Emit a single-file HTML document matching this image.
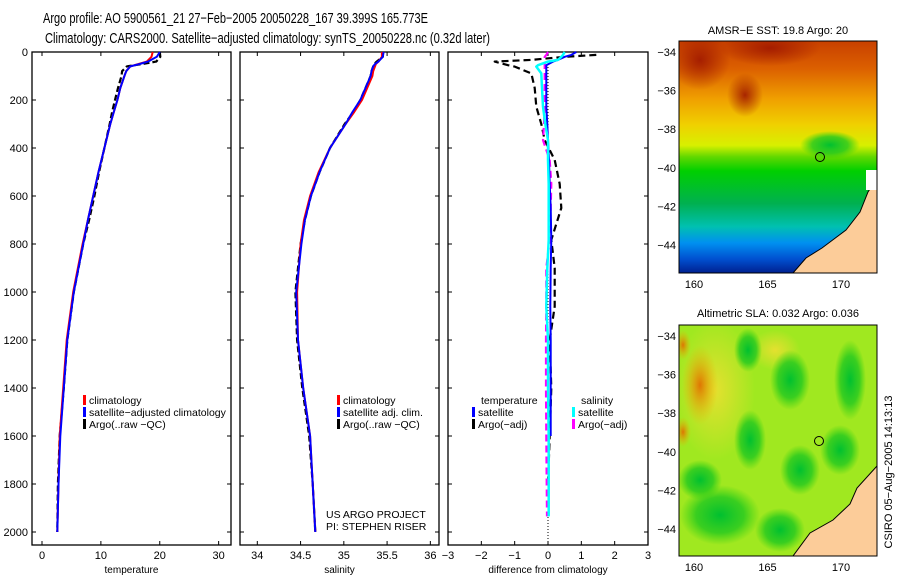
<!DOCTYPE html>
<html><head><meta charset="utf-8"><style>
html,body{margin:0;padding:0;background:#fff;width:900px;height:580px;overflow:hidden}
svg{display:block;font-family:"Liberation Sans",sans-serif}
</style></head><body>
<svg id="fig" width="900" height="580" viewBox="0 0 900 580">
<text x="43" y="23" font-size="14.5" textLength="385" lengthAdjust="spacingAndGlyphs">Argo profile: AO 5900561_21 27−Feb−2005 20050228_167 39.399S 165.773E</text>
<text x="45" y="43" font-size="14.5" textLength="445" lengthAdjust="spacingAndGlyphs">Climatology: CARS2000. Satellite−adjusted climatology: synTS_20050228.nc (0.32d later)</text>
<g id="charts"></g>
<defs>
<linearGradient id="sstg" x1="0" y1="0" x2="0" y2="1">
<stop offset="0" stop-color="#c84000"/><stop offset="0.12" stop-color="#dc6000"/><stop offset="0.25" stop-color="#f0a000"/>
<stop offset="0.36" stop-color="#f0d000"/><stop offset="0.45" stop-color="#d8f000"/><stop offset="0.5" stop-color="#60d800"/>
<stop offset="0.56" stop-color="#00d000"/><stop offset="0.7" stop-color="#00b050"/><stop offset="0.8" stop-color="#00c0b0"/>
<stop offset="0.87" stop-color="#0090f0"/><stop offset="0.94" stop-color="#0050d0"/><stop offset="1" stop-color="#002090"/>
</linearGradient>
<radialGradient id="blobR"><stop offset="0" stop-color="#a01800" stop-opacity="0.9"/><stop offset="1" stop-color="#a01800" stop-opacity="0"/></radialGradient>
<radialGradient id="blobG"><stop offset="0" stop-color="#00c030"/><stop offset="0.6" stop-color="#20c820" stop-opacity="0.8"/><stop offset="1" stop-color="#30d010" stop-opacity="0"/></radialGradient>
<radialGradient id="blobO"><stop offset="0" stop-color="#e07000" stop-opacity="0.95"/><stop offset="1" stop-color="#f0b000" stop-opacity="0"/></radialGradient>
<radialGradient id="blobY"><stop offset="0" stop-color="#e8e030" stop-opacity="0.95"/><stop offset="1" stop-color="#e8e030" stop-opacity="0"/></radialGradient>
<clipPath id="c1"><rect x="679" y="41" width="198" height="232"/></clipPath>
<clipPath id="c2"><rect x="679" y="325" width="198" height="231"/></clipPath>
</defs>
<g>
<text x="778" y="34" font-size="11" text-anchor="middle">AMSR−E SST: 19.8 Argo: 20</text>
<g clip-path="url(#c1)">
<rect x="679" y="41" width="198" height="232" fill="url(#sstg)"/>
<ellipse cx="700" cy="60" rx="30" ry="30" fill="url(#blobR)"/>
<ellipse cx="770" cy="48" rx="50" ry="18" fill="url(#blobR)"/>
<ellipse cx="745" cy="95" rx="18" ry="22" fill="url(#blobR)"/>
<ellipse cx="830" cy="145" rx="30" ry="14" fill="url(#blobG)"/>
<polygon points="877,178 868,192 860,212 846,230 822,248 806,258 793,273 877,273" fill="#fccc99" stroke="#000" stroke-width="1"/>
<rect x="866" y="170" width="11" height="20" fill="#fff"/>
<circle cx="820" cy="157" r="4.5" fill="none" stroke="#000"/>
</g>
<rect x="679" y="41" width="198" height="232" fill="none" stroke="#000"/>
</g>
<g>
<text x="778" y="317" font-size="11" text-anchor="middle">Altimetric SLA: 0.032 Argo: 0.036</text>
<g clip-path="url(#c2)">
<rect x="679" y="325" width="198" height="231" fill="#a0e820"/>
<ellipse cx="715" cy="390" rx="40" ry="70" fill="url(#blobY)"/>
<ellipse cx="775" cy="350" rx="25" ry="20" fill="url(#blobY)"/>
<ellipse cx="748" cy="350" rx="14" ry="22" fill="url(#blobG)"/>
<ellipse cx="790" cy="380" rx="20" ry="30" fill="url(#blobG)"/>
<ellipse cx="850" cy="380" rx="16" ry="40" fill="url(#blobG)"/>
<ellipse cx="700" cy="480" rx="22" ry="20" fill="url(#blobG)"/>
<ellipse cx="750" cy="440" rx="16" ry="30" fill="url(#blobG)"/>
<ellipse cx="800" cy="470" rx="20" ry="25" fill="url(#blobG)"/>
<ellipse cx="720" cy="515" rx="40" ry="30" fill="url(#blobG)"/>
<ellipse cx="780" cy="530" rx="25" ry="22" fill="url(#blobG)"/>
<ellipse cx="840" cy="450" rx="20" ry="25" fill="url(#blobG)"/>
<ellipse cx="700" cy="385" rx="18" ry="40" fill="url(#blobO)"/>
<ellipse cx="683" cy="345" rx="8" ry="15" fill="url(#blobO)"/>
<ellipse cx="683" cy="432" rx="8" ry="15" fill="url(#blobO)"/>
<polygon points="877,466 857,488 850,504 833,520 810,533 793,556 877,556" fill="#fccc99" stroke="#000" stroke-width="1"/>
<circle cx="819" cy="441" r="4.5" fill="none" stroke="#000"/>
</g>
<rect x="679" y="325" width="198" height="231" fill="none" stroke="#000"/>
</g>
<text transform="translate(892,472) rotate(-90)" font-size="11" text-anchor="middle">CSIRO 05−Aug−2005 14:13:13</text>
</svg>
<script>
// depth levels (m)
const depthClim = [0,20,40,50,60,80,100,150,200,250,300,400,500,600,700,800,1000,1200,1400,1600,1800,2000];
const tempClim  = [18.8,18.6,17.8,16.4,15.0,14.3,14.0,13.3,12.8,12.2,11.6,10.6,9.6,8.7,7.8,6.9,5.3,4.2,3.6,3.0,2.8,2.6];
const tempSat   = [20.0,19.5,18.0,16.6,15.0,14.3,14.0,13.3,12.8,12.2,11.6,10.6,9.6,8.7,7.8,7.0,5.4,4.3,3.7,3.1,2.8,2.6];
const tempArgo  = [20.0,20.1,19.4,17.0,14.4,13.6,13.5,12.9,12.4,11.9,11.5,10.6,9.7,8.9,8.0,7.0,5.4,4.3,3.7,3.0,2.7,2.6];
const salClim   = [35.44,35.44,35.40,35.37,35.36,35.34,35.33,35.27,35.21,35.12,35.02,34.84,34.71,34.61,34.54,34.50,34.46,34.47,34.53,34.61,34.64,34.67];
const salSat    = [35.46,35.45,35.40,35.36,35.34,35.32,35.31,35.25,35.19,35.10,35.02,34.84,34.72,34.62,34.55,34.51,34.45,34.47,34.53,34.61,34.64,34.67];
const salArgo   = [35.45,35.45,35.38,35.35,35.34,35.32,35.31,35.25,35.19,35.11,35.01,34.84,34.72,34.62,34.55,34.50,34.44,34.46,34.52,34.60,34.64,34.67];
// differences
const diffDepth   = [0,12,20,33,40,55,61,89,150,228,300,367,450,550,650,783,900,1060,1200,1400,1600,1800,1935];
const diffTSat    = [0.85,0.7,0.5,0.3,0.15,-0.05,-0.05,-0.05,-0.05,-0.05,-0.02,0.0,0.03,0.05,0.08,0.1,0.08,0.07,0.08,0.08,0.08,null,null];
const diffTArgo   = [null,1.45,0.5,-0.5,-1.6,-1.2,-1.0,-0.5,-0.4,-0.35,-0.2,-0.1,0.2,0.35,0.4,0.1,0.2,0.2,0.05,0.1,0.05,0.0,null];
const diffSSat    = [0.5,0.45,0.4,0.3,0.0,-0.3,-0.35,-0.2,-0.18,-0.15,-0.08,0.0,0.0,0.02,0.02,0.02,-0.02,-0.05,0.0,0.0,0.02,0.02,0.02];
const diffSArgo   = [0.0,-0.05,-0.1,-0.1,-0.1,-0.1,-0.1,-0.1,-0.1,-0.1,-0.12,-0.15,0.05,0.1,0.08,0.05,-0.05,-0.05,-0.06,-0.06,-0.05,-0.04,-0.03];
const depthTicks = [0,200,400,600,800,1000,1200,1400,1600,1800,2000];
const tempTicks = [0,10,20,30];
const salTicks = [34,34.5,35,35.5,36];
const salTickLabels = ["34","34.5","35","35.5","36"];
const diffTicks = [-3,-2,-1,0,1,2,3];
const sstLatTicks = [-34,-36,-38,-40,-42,-44];
const lonTicks = [160,165,170];

const NS='http://www.w3.org/2000/svg';
const g=document.getElementById('charts');
function el(tag,attrs,parent){const e=document.createElementNS(NS,tag);for(const k in attrs)e.setAttribute(k,attrs[k]);(parent||g).appendChild(e);return e;}
function txt(x,y,s,size,anchor,parent){const t=el('text',{x:x,y:y,'font-size':size,'text-anchor':anchor||'start'},parent);t.textContent=s;return t;}
const yTop=52,yBot=545;
const yD=d=>52+d*0.24;

function panel(name,x0,x1,xmin,xmax,ticks,labels,xlabel){
  const p=el('g',{});
  
  
  const xs=v=>x0+(v-xmin)/(xmax-xmin)*(x1-x0);
  el('rect',{x:x0,y:yTop,width:x1-x0,height:yBot-yTop,fill:'none',stroke:'#000','stroke-width':1.3},p);
  ticks.forEach((t,i)=>{const x=xs(t);
    el('line',{x1:x,x2:x,y1:yBot,y2:yBot-4,stroke:'#000'},p);
    el('line',{x1:x,x2:x,y1:yTop,y2:yTop+4,stroke:'#000'},p);
    const lb=txt(x,559,labels[i],11,'middle',p);
    
    
  });
  depthTicks.forEach(d=>{const y=yD(d);
    el('line',{x1:x0,x2:x0+4,y1:y,y2:y,stroke:'#000'},p);
    el('line',{x1:x1,x2:x1-4,y1:y,y2:y,stroke:'#000'},p);
  });
  const xl=txt((x0+x1)/2,573,xlabel,10,'middle',p);
  
  
  return {p,xs};
}
function series(p,xs,depths,vals,color,dash,name,w){
  let d='',pen=false;
  vals.forEach((v,i)=>{if(v===null){pen=false;return;}d+=(pen?'L':'M')+xs(v).toFixed(1)+','+yD(depths[i]).toFixed(1);pen=true;});
  const path=el('path',{d:d,fill:'none',stroke:color,'stroke-width':w||2,'stroke-dasharray':dash||'none','stroke-linejoin':'round'},p);
  
  
}
function legend(p,x,y,items){
  items.forEach((it,i)=>{
    const r=el('rect',{x:x,y:y+i*12-9,width:3,height:10,fill:it[0]},p);
    
    
    const t=txt(x+6,y+i*12,it[1],10.5,'start',p);
    
    
  });
}
depthTicks.forEach(d=>{const t=txt(28,yD(d)+4,String(d),11,'end');
  
  });

let P=panel('temperature-panel',32,231,-1.7,32.1,tempTicks,tempTicks.map(String),'temperature');
series(P.p,P.xs,depthClim,tempArgo,'#000','6,3','argo-temperature-line',2.2);
series(P.p,P.xs,depthClim,tempClim,'#f00',null,'climatology-temperature-line');
series(P.p,P.xs,depthClim,tempSat,'#00f',null,'satellite-temperature-line');
legend(P.p,83,404,[['#f00','climatology'],['#00f','satellite−adjusted climatology'],['#000','Argo(..raw −QC)']]);

P=panel('salinity-panel',240,439,33.8,36.1,salTicks,salTickLabels,'salinity');
series(P.p,P.xs,depthClim,salArgo,'#000','6,3','argo-salinity-line',2.2);
series(P.p,P.xs,depthClim,salClim,'#f00',null,'climatology-salinity-line');
series(P.p,P.xs,depthClim,salSat,'#00f',null,'satellite-salinity-line');
legend(P.p,337,404,[['#f00','climatology'],['#00f','satellite adj. clim.'],['#000','Argo(..raw −QC)']]);
txt(326,518,'US ARGO PROJECT',10.5,'start',P.p);
txt(326,530,'PI: STEPHEN RISER',10.5,'start',P.p);

P=panel('difference-panel',448,648,-3,3,diffTicks,diffTicks.map(v=>v<0?'−'+(-v):String(v)),'difference from climatology');
el('line',{x1:P.xs(0),x2:P.xs(0),y1:yTop,y2:yBot,stroke:'#000','stroke-dasharray':'1,2'},P.p);
series(P.p,P.xs,diffDepth,diffTArgo,'#000','7,4','argo-temperature-diff',2.2);
series(P.p,P.xs,diffDepth,diffSArgo,'#f0f','7,4','argo-salinity-diff',2.2);
series(P.p,P.xs,diffDepth,diffTSat,'#00f',null,'satellite-temperature-diff');
series(P.p,P.xs,diffDepth,diffSSat,'#0ff',null,'satellite-salinity-diff',2.5);
txt(481,404,'temperature',10.5,'start',P.p);
legend(P.p,472,416,[['#00f','satellite'],['#000','Argo(−adj)']]);
txt(581,404,'salinity',10.5,'start',P.p);
legend(P.p,572,416,[['#0ff','satellite'],['#f0f','Argo(−adj)']]);

function mapAxes(top,bot,lat34){
  const m=el('g',{});
  
  
  sstLatTicks.forEach(l=>{const y=lat34+(-34-l)*19.3;
    el('line',{x1:679,x2:683,y1:y,y2:y,stroke:'#000'},m);
    el('line',{x1:877,x2:873,y1:y,y2:y,stroke:'#000'},m);
    const t=txt(676,y+4,'−'+(-l),11,'end',m);
    
    });
  lonTicks.forEach(l=>{const x=694+(l-160)*14.7;
    el('line',{x1:x,x2:x,y1:bot,y2:bot-4,stroke:'#000'},m);
    el('line',{x1:x,x2:x,y1:top,y2:top+4,stroke:'#000'},m);
    const t=txt(x,bot+15,String(l),11,'middle',m);
    
    });
}
mapAxes(41,273,52);
mapAxes(325,556,336);
</script>
</body></html>
